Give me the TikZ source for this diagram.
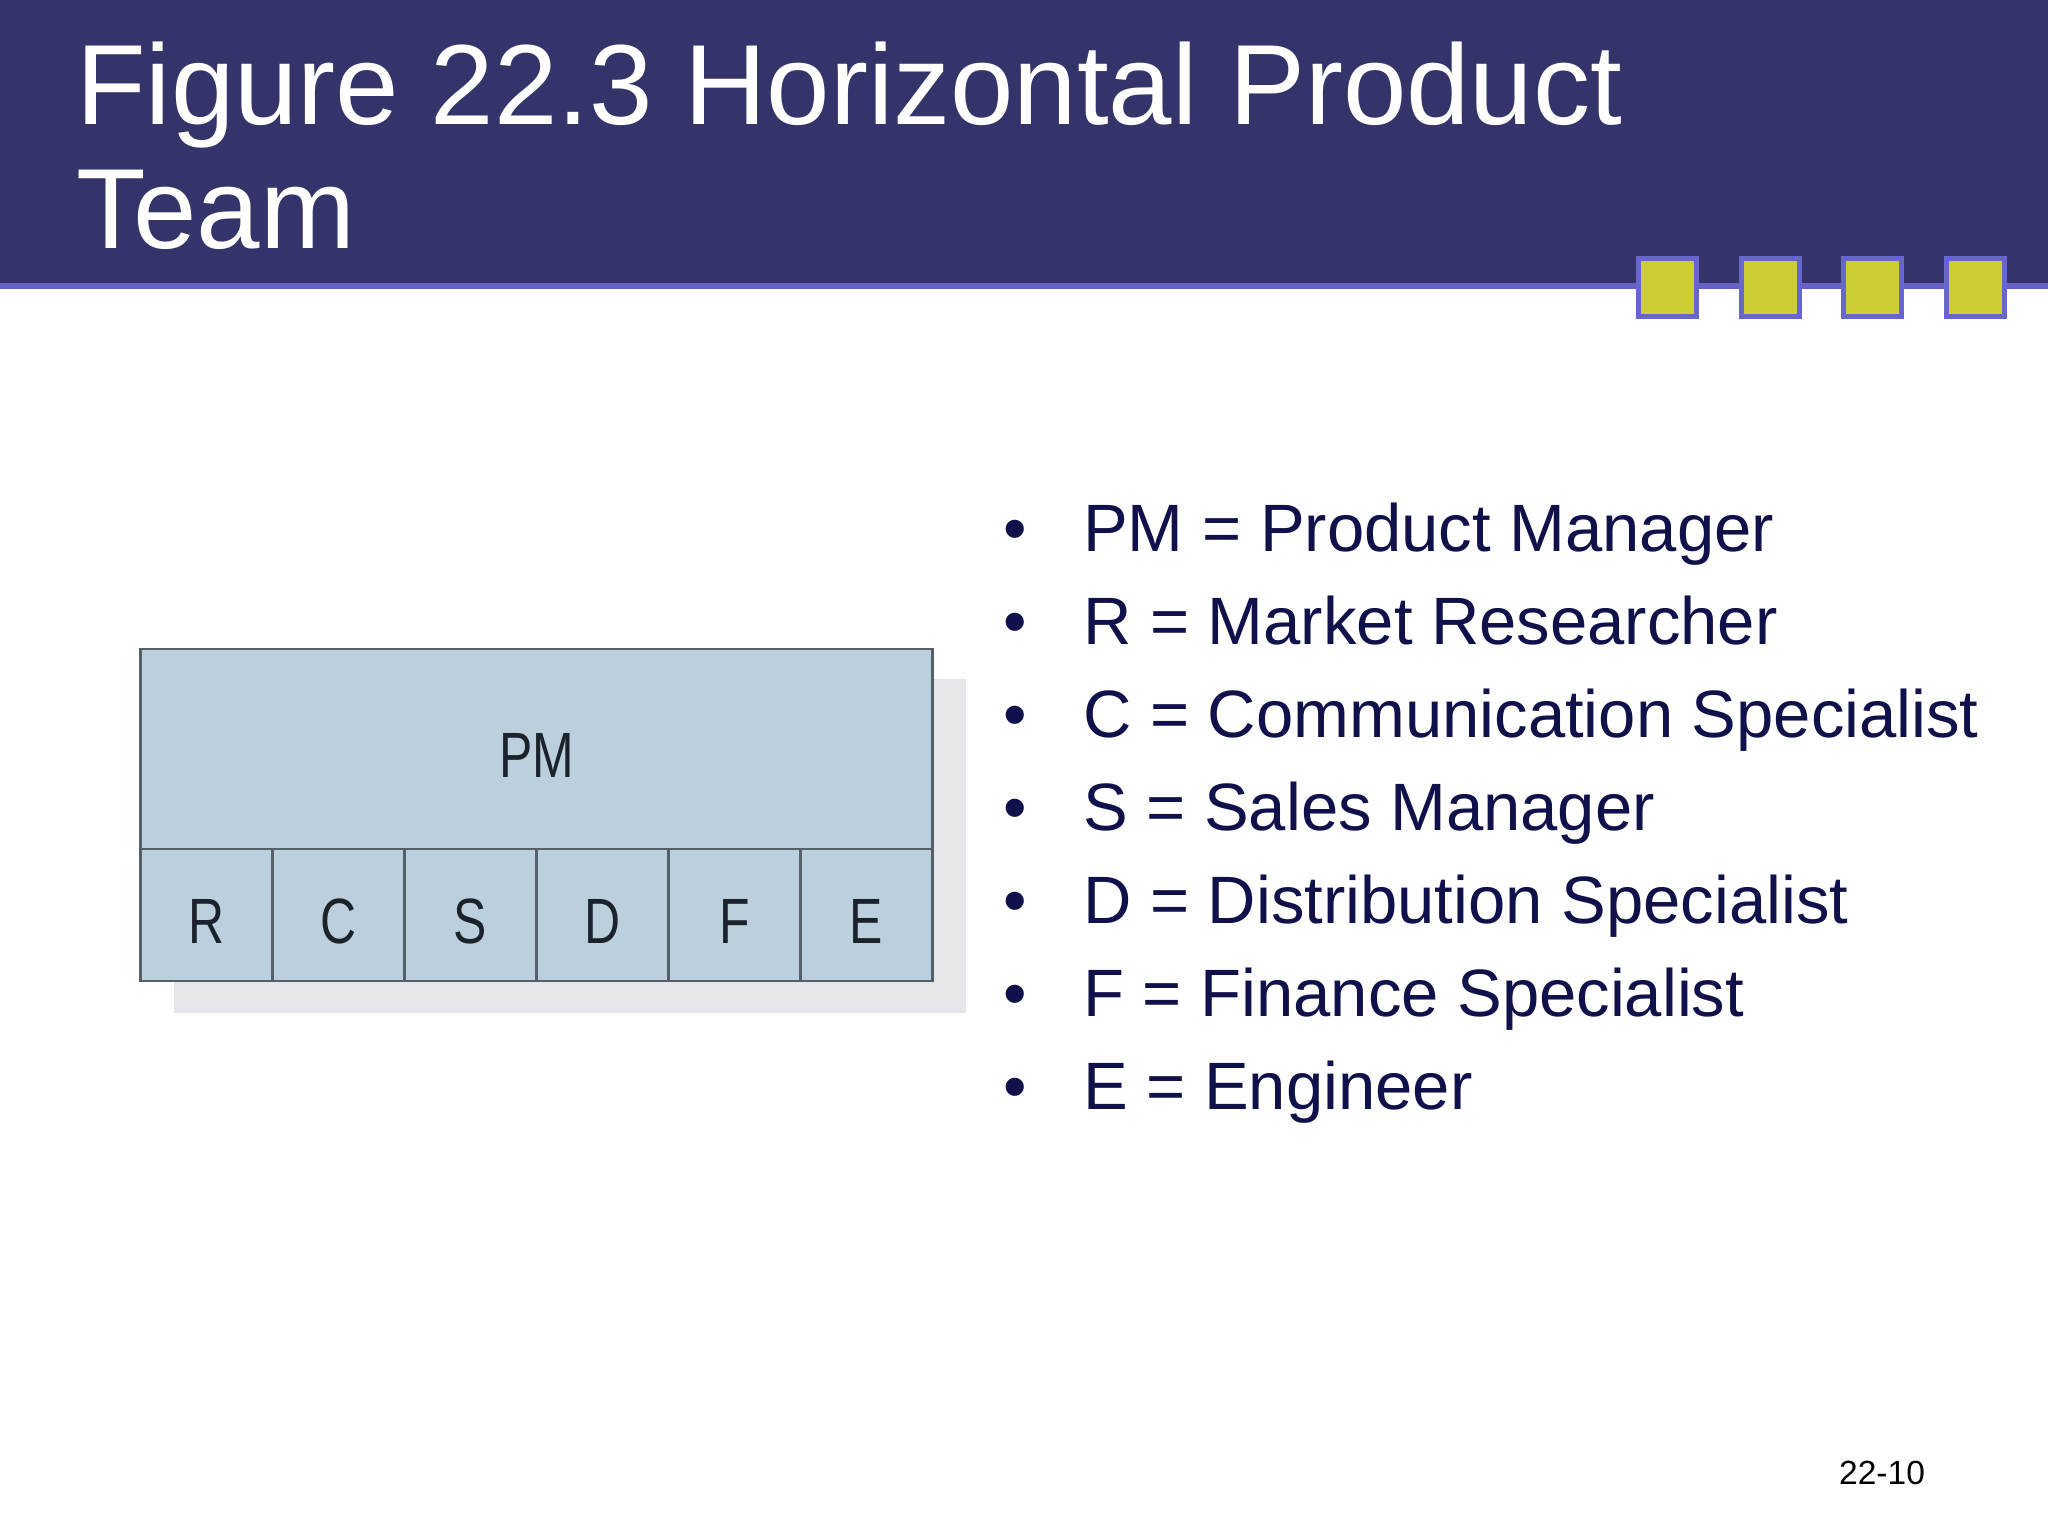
\documentclass[tikz,border=0pt]{standalone}
\usepackage{fontspec}
\setmainfont{Liberation Sans}
\newfontfamily\narrowfont[FakeStretch=0.78]{Liberation Sans}
\usetikzlibrary{positioning}
\definecolor{headblue}{HTML}{35346A}
\definecolor{headline}{HTML}{6662C8}
\definecolor{sqyellow}{HTML}{CCCC33}
\definecolor{sqborder}{HTML}{6666CC}
\definecolor{textblue}{HTML}{10104A}
\definecolor{boxblue}{HTML}{BCCFDC}
\definecolor{boxline}{HTML}{555F68}
\definecolor{lettergray}{HTML}{1A232B}
\definecolor{shadowgray}{HTML}{E6E6EA}

\begin{document}
\begin{tikzpicture}[x=1pt, y=-1pt,
  box/.style = {shape=rectangle, draw=boxline, line width=2.8pt,
    fill=boxblue, inner sep=0pt, outer sep=0pt,
    text height=56pt, text depth=0pt, text=lettergray,
    font=\narrowfont\fontsize{64}{64}\selectfont},
  cell/.style = {box, minimum width=131.9pt, minimum height=132pt},
  item/.style = {anchor=base west, inner sep=0pt, text=textblue,
    font=\fontsize{67}{80}\selectfont}]
  \useasboundingbox (0,0) rectangle (2048,1536);
  \fill[white] (0,0) rectangle (2048,1536);
  % title bar
  \fill[headblue] (0,0) rectangle (2048,286);
  \draw[headline, line width=6pt] (0,286) -- (2048,286);
  \foreach \x in {1667.5,1770,1872.5,1975}
    \draw[sqborder, fill=sqyellow, line width=5pt] (\x-29,258.5) rectangle (\x+29,316.5);
  \node[anchor=base west, inner sep=0pt, text=white, align=left,
    font=\fontsize{114}{124}\selectfont] (title) at (76,248)
    {Figure 22.3 Horizontal Product\\Team};

  % team diagram
  \fill[shadowgray] (174,679) rectangle (966,1013);
  \node[box, minimum width=791.5pt, minimum height=200pt] (pm) at (536.5,749) {PM};
  \node[cell, anchor=north west] (r) at (pm.south west) {R};
  \node[cell, right=0pt of r] (c) {C};
  \node[cell, right=0pt of c] (s) {S};
  \node[cell, right=0pt of s] (d) {D};
  \node[cell, right=0pt of d] (f) {F};
  \node[cell, right=0pt of f] (e) {E};

  % legend
  \node[item] (pmitem) at (1003,551) {\makebox[80pt][l]{\textbullet}PM = Product Manager};
  \node[item] (ritem) at (1003,644) {\makebox[80pt][l]{\textbullet}R = Market Researcher};
  \node[item] (citem) at (1003,737) {\makebox[80pt][l]{\textbullet}C = Communication Specialist};
  \node[item] (sitem) at (1003,830) {\makebox[80pt][l]{\textbullet}S = Sales Manager};
  \node[item] (ditem) at (1003,923) {\makebox[80pt][l]{\textbullet}D = Distribution Specialist};
  \node[item] (fitem) at (1003,1016) {\makebox[80pt][l]{\textbullet}F = Finance Specialist};
  \node[item] (eitem) at (1003,1109) {\makebox[80pt][l]{\textbullet}E = Engineer};

  \node[anchor=base west, inner sep=0pt, font=\fontsize{33.5}{40}\selectfont]
    (pagenum) at (1839,1484) {22-10};
\end{tikzpicture}
\end{document}
